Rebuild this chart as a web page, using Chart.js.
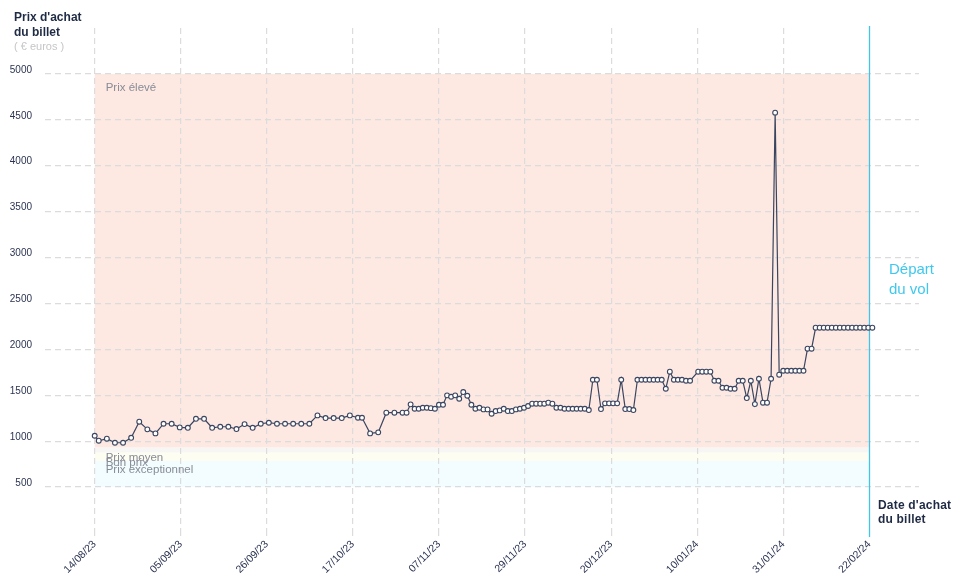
<!DOCTYPE html>
<html>
<head>
<meta charset="utf-8">
<script src="https://cdn.jsdelivr.net/npm/chart.js@4.4.1/dist/chart.umd.min.js"></script>
<style>
  html, body { margin: 0; padding: 0; background: #ffffff; }
  #wrap { position: relative; width: 958px; height: 585px; font-family: "Liberation Sans", Arial, sans-serif; }
  #wrap canvas { position: absolute; left: 0; top: 0; }
  .note { position: absolute; white-space: nowrap; }
  #ytitle { left: 14px; top: 10px; font-weight: bold; font-size: 12px; line-height: 15px; color: #1f2a44; }
  #yunit { left: 14px; top: 40px; font-size: 11px; line-height: 13px; color: #c6c6c6; }
  #depart { left: 889px; top: 259px; font-size: 15px; line-height: 20px; color: #3fc8ef; }
  #xtitle { left: 878px; top: 498px; font-weight: bold; font-size: 12px; line-height: 14px; color: #1f2a44; letter-spacing: 0.2px; }
</style>
</head>
<body>
<div id="wrap">
  <canvas id="chart" width="958" height="585"></canvas>
  <div class="note" id="ytitle">Prix d'achat<br>du billet</div>
  <div class="note" id="yunit">( € euros )</div>
  <div class="note" id="depart">Départ<br>du vol</div>
  <div class="note" id="xtitle">Date d'achat<br>du billet</div>
</div>
<script>
// ---- data ----
const tickLabels = ['14/08/23','05/09/23','26/09/23','17/10/23','07/11/23','29/11/23','20/12/23','10/01/24','31/01/24','22/02/24'];
const tickDays = [0, 21.25, 42.5, 63.75, 85, 106.25, 127.5, 148.75, 170, 191.25];

// days since 14/08/23
const purchaseDay = [
  0, 1, 3, 5, 7, 9, 11, 13, 15, 17, 19, 21, 23, 25, 27, 29, 31, 33, 35, 37, 39,
  41, 43, 45, 47, 49, 51, 53, 55, 57, 59, 61, 63, 65, 66, 68, 70, 72, 74, 76, 77, 78, 79, 80,
  81, 82, 83, 84, 85, 86, 87, 88, 89, 90, 91, 92, 93, 94, 95, 96, 97, 98, 99, 100,
  101, 102, 103, 104, 105, 106, 107, 108, 109, 110, 111, 112, 113, 114, 115, 116, 117, 118, 119, 120, 121,
  122, 123, 124, 125, 126, 127, 128, 129, 130, 131, 132, 133, 134, 135, 136, 137, 138, 139, 140,
  141, 142, 143, 144, 145, 146, 147, 149, 150, 151, 152, 153, 154, 155, 156, 157, 158,
  159, 160, 161, 162, 163, 164, 165, 166, 167, 168, 169, 170, 171, 172, 173, 174, 175, 176, 177,
  178, 179, 180, 181, 182, 183, 184, 185, 186, 187, 188, 189, 190, 191, 192
];
const ticketPrice = [
  1059, 1005, 1027, 983, 983, 1037, 1212, 1129, 1085, 1190, 1190, 1150, 1146, 1244, 1244, 1146, 1157, 1157, 1132, 1186, 1146,
  1190, 1201, 1190, 1190, 1190, 1190, 1190, 1281, 1252, 1252, 1252, 1281, 1255, 1255, 1085, 1096, 1310, 1310, 1310, 1310, 1401, 1353, 1353,
  1364, 1364, 1360, 1353, 1397, 1397, 1499, 1484, 1499, 1462, 1535, 1495, 1397, 1353, 1364, 1346, 1346, 1299, 1328, 1335,
  1353, 1328, 1328, 1346, 1353, 1364, 1383, 1408, 1408, 1408, 1408, 1419, 1408, 1364, 1364, 1353, 1353, 1353, 1353, 1353, 1353,
  1339, 1669, 1669, 1350, 1412, 1412, 1412, 1412, 1669, 1350, 1350, 1339, 1669, 1669, 1669, 1669, 1669, 1669, 1669,
  1571, 1757, 1669, 1669, 1669, 1658, 1658, 1757, 1757, 1757, 1757, 1658, 1658, 1582, 1582, 1571, 1571,
  1658, 1658, 1470, 1658, 1404, 1680, 1419, 1419, 1680, 4578, 1724, 1767, 1767, 1767, 1767, 1767, 1767, 2007, 2007,
  2236, 2236, 2236, 2236, 2236, 2236, 2236, 2236, 2236, 2236, 2236, 2236, 2236, 2236, 2236
];

const bandNames = ['Prix élevé', 'Prix moyen', 'Bon prix', 'Prix exceptionnel'];
const bandFrom  = [930, 875, 785, 500];
const bandTo    = [5000, 930, 875, 785];

// ---- styles ----
const bandColors = ['#fde8e2', '#f8f6f5', '#fefdf1', '#f3fdff'];
const bandLabelDrop = [17, 13, 13.3, 12.5];
const navy = '#2b3452';
const lineColor = '#3a4560';
const blue = '#45c3e6';

const bandsPlugin = {
  id: 'bands',
  beforeDraw(chart) {
    const {ctx, scales: {x, y}} = chart;
    const x0 = x.getPixelForValue(tickDays[0]);
    const x1 = x.getPixelForValue(tickDays[tickDays.length - 1]);
    ctx.save();
    bandNames.forEach((name, i) => {
      const yt = y.getPixelForValue(bandTo[i]);
      const yb = y.getPixelForValue(bandFrom[i]);
      ctx.fillStyle = bandColors[i];
      ctx.fillRect(x0, yt, x1 - x0, yb - yt);
    });
    ctx.restore();
  },
  beforeDatasetsDraw(chart) {
    const {ctx, chartArea, scales: {x, y}} = chart;
    const x0 = x.getPixelForValue(tickDays[0]);
    ctx.save();
    ctx.font = '11.5px "Liberation Sans", Arial, sans-serif';
    ctx.fillStyle = '#878c97';
    ctx.textBaseline = 'alphabetic';
    ctx.textAlign = 'left';
    bandNames.forEach((name, i) => {
      const yt = y.getPixelForValue(bandTo[i]);
      ctx.fillText(name, x0 + 11, yt + bandLabelDrop[i]);
    });
    // departure line
    const xd = Math.round(x.getPixelForValue(tickDays[tickDays.length - 1])) + 0.5;
    ctx.strokeStyle = blue;
    ctx.lineWidth = 1.3;
    ctx.beginPath();
    ctx.moveTo(xd, chartArea.top - 2);
    ctx.lineTo(xd, chartArea.bottom + 4);
    ctx.stroke();
    ctx.restore();
  }
};

new Chart(document.getElementById('chart'), {
  type: 'line',
  data: {
    datasets: [{
      data: purchaseDay.map((d, i) => ({x: d, y: ticketPrice[i]})),
      borderColor: lineColor,
      borderWidth: 1.2,
      tension: 0,
      pointRadius: 2.4,
      pointHoverRadius: 2.4,
      pointBackgroundColor: '#ffffff',
      pointBorderColor: lineColor,
      pointBorderWidth: 1.1
    }]
  },
  options: {
    responsive: false,
    animation: false,
    devicePixelRatio: 1,
    layout: { padding: { top: 28, right: 39, left: 0, bottom: 0 } },
    plugins: { legend: { display: false }, tooltip: { enabled: false } },
    scales: {
      x: {
        type: 'linear',
        min: -12.27,
        max: 203.52,
        bounds: 'data',
        afterBuildTicks(s) { s.ticks = tickDays.map(v => ({value: v})); },
        afterFit(s) { s.height = 52; s.paddingLeft = 0; s.paddingRight = 0; },
        ticks: {
          autoSkip: false,
          maxRotation: 45,
          minRotation: 45,
          padding: 2,
          color: navy,
          font: { family: '"Liberation Sans", Arial, sans-serif', size: 10.5 },
          callback: (v, i) => tickLabels[i]
        },
        grid: {
          color: (c) => (c.index === tickDays.length - 1 ? 'rgba(0,0,0,0)' : '#dcdcdc'),
          lineWidth: 1.2,
          drawTicks: true,
          tickLength: 3
        },
        border: { display: false, dash: [6, 4] }
      },
      y: {
        min: 0,
        max: 5500,
        afterFit(s) { s.width = 45; s.paddingTop = 0; s.paddingBottom = 0; },
        ticks: {
          stepSize: 500,
          padding: 13,
          labelOffset: -4,
          color: navy,
          font: { family: '"Liberation Sans", Arial, sans-serif', size: 10 },
          callback: (v) => (v === 0 || v === 5500 ? '' : String(v))
        },
        grid: {
          color: (c) => (c.tick && (c.tick.value === 0 || c.tick.value === 5500) ? 'rgba(0,0,0,0)' : '#dcdcdc'),
          lineWidth: 1.2,
          drawTicks: false
        },
        border: { display: false, dash: [6, 4] }
      }
    }
  },
  plugins: [bandsPlugin]
});
</script>
</body>
</html>
